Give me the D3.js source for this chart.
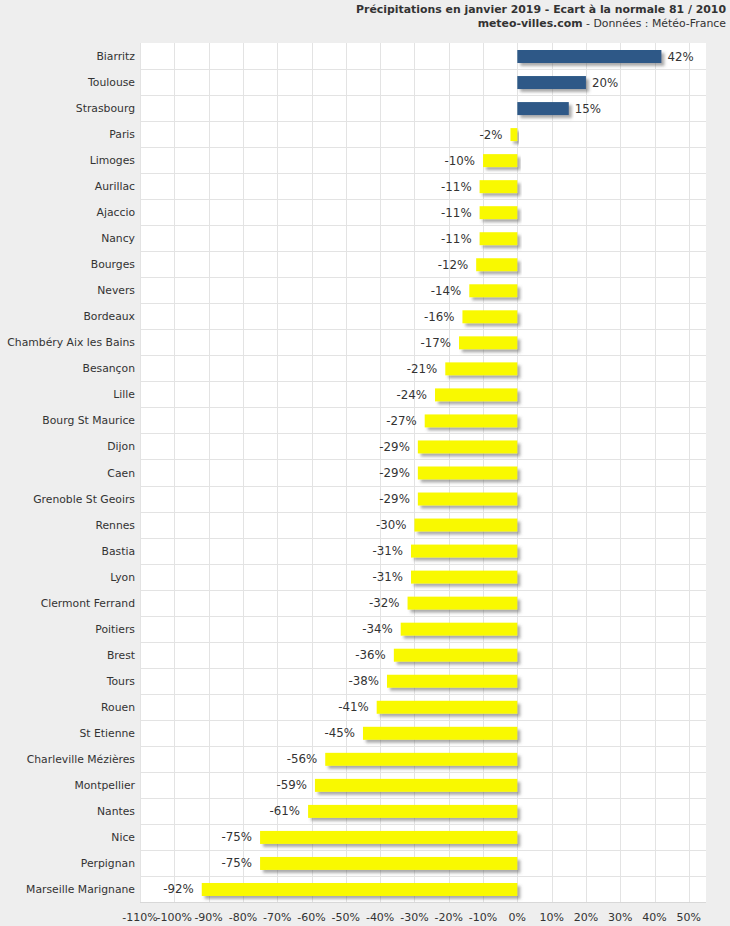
<!DOCTYPE html>
<html><head><meta charset="utf-8">
<script src="https://cdn.jsdelivr.net/npm/d3@7/dist/d3.min.js"></script>
<style>body{margin:0;background:#eeeeee;}svg{display:block;}text{font-family:"DejaVu Sans",Verdana,sans-serif;}</style>
</head><body><div id="c"></div>
<script>
const cities = ["Biarritz","Toulouse","Strasbourg","Paris","Limoges","Aurillac","Ajaccio","Nancy","Bourges","Nevers","Bordeaux","Chambéry Aix les Bains","Besançon","Lille","Bourg St Maurice","Dijon","Caen","Grenoble St Geoirs","Rennes","Bastia","Lyon","Clermont Ferrand","Poitiers","Brest","Tours","Rouen","St Etienne","Charleville Mézières","Montpellier","Nantes","Nice","Perpignan","Marseille Marignane"];
const values = [42,20,15,-2,-10,-11,-11,-11,-12,-14,-16,-17,-21,-24,-27,-29,-29,-29,-30,-31,-31,-32,-34,-36,-38,-41,-45,-56,-59,-61,-75,-75,-92];
const ticks = [-110,-100,-90,-80,-70,-60,-50,-40,-30,-20,-10,0,10,20,30,40,50];

const W=730,H=926, L=140, R=706, T=43, B=902;
const svg=d3.select("#c").append("svg").attr("width",W).attr("height",H);
svg.append("rect").attr("width",W).attr("height",H).attr("fill","#eeeeee");
const defs=svg.append("defs");
const f=defs.append("filter").attr("id","sh").attr("x","-5%").attr("y","-30%").attr("width","115%").attr("height","190%");
f.append("feDropShadow").attr("dx",3).attr("dy",3).attr("stdDeviation",1.5).attr("flood-color","#555").attr("flood-opacity",0.5);

const x=d3.scaleLinear().domain([-110,55]).range([L,R]);
const y=d3.scaleBand().domain(cities).range([T,B]);

svg.append("rect").attr("x",L).attr("y",T).attr("width",R-L).attr("height",B-T).attr("fill","#fff");
const g=svg.append("g");
g.selectAll(".vg").data(ticks).join("line").attr("x1",d=>Math.round(x(d))+0.5).attr("x2",d=>Math.round(x(d))+0.5)
 .attr("y1",T).attr("y2",B).attr("stroke","#e3e3e3");
g.selectAll(".hg").data(cities.slice(1)).join("line").attr("y1",d=>Math.round(y(d))+0.5).attr("y2",d=>Math.round(y(d))+0.5)
 .attr("x1",L).attr("x2",R).attr("stroke","#e3e3e3");
g.append("line").attr("x1",L).attr("x2",R).attr("y1",B+0.5).attr("y2",B+0.5).attr("stroke","#d8d8d8");

const bh=13;
svg.append("g").selectAll("rect").data(values).join("rect")
 .attr("x",d=>x(Math.min(0,d))).attr("width",d=>Math.abs(x(d)-x(0)))
 .attr("y",(d,i)=>y(cities[i])+y.bandwidth()/2-bh/2+0.5).attr("height",bh)
 .attr("fill",d=>d>=0?"#2d5887":"#f9f900").attr("filter","url(#sh)");

svg.append("g").selectAll("text").data(values).join("text")
 .attr("x",d=>d>=0?x(d)+6:x(d)-8).attr("y",(d,i)=>y(cities[i])+y.bandwidth()/2+4.5)
 .attr("text-anchor",d=>d>=0?"start":"end").attr("font-size",11.8).attr("fill","#333")
 .text(d=>d+"%");

svg.append("g").selectAll("text").data(cities).join("text")
 .attr("x",135).attr("y",d=>y(d)+y.bandwidth()/2+4).attr("text-anchor","end")
 .attr("font-size",10.8).attr("fill","#333").text(d=>d);

svg.append("g").selectAll("text").data(ticks).join("text")
 .attr("x",d=>x(d)).attr("y",921).attr("text-anchor","middle").attr("font-size",11).attr("fill","#333")
 .text(d=>d+"%");

svg.append("text").attr("x",726).attr("y",13).attr("text-anchor","end").attr("font-size",10.9).attr("font-weight","bold").attr("fill","#333")
 .text("Précipitations en janvier 2019 - Ecart à la normale 81 / 2010");
const t2=svg.append("text").attr("x",726).attr("y",27).attr("text-anchor","end").attr("font-size",10.9).attr("fill","#333");
t2.append("tspan").attr("font-weight","bold").text("meteo-villes.com");
t2.append("tspan").text(" - Données : Météo-France");
</script></body></html>
